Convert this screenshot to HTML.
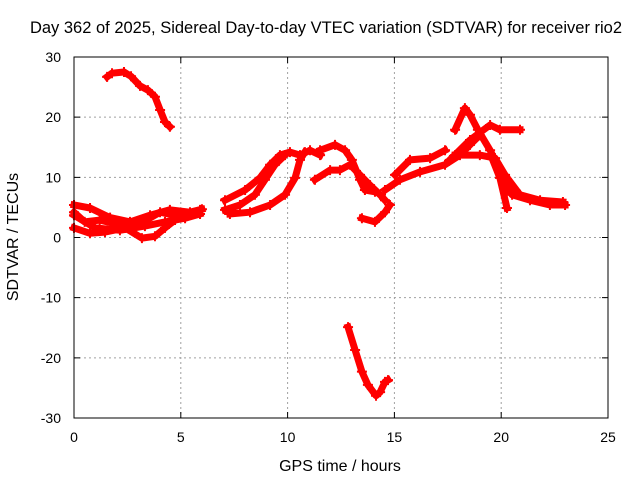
<!DOCTYPE html>
<html><head><meta charset="utf-8"><style>
body{margin:0;background:#fff}
svg{display:block;font-family:"Liberation Sans",sans-serif;font-size:14px}
</style></head><body>
<svg id="chart" width="640" height="480" viewBox="0 0 640 480">
<rect width="640" height="480" fill="#fff"/>
<text x="326" y="33" text-anchor="middle" font-size="16.5">Day 362 of 2025, Sidereal Day-to-day VTEC variation (SDTVAR) for receiver rio2</text>
<g id="grid"></g>
<g id="ticks"></g>
<g id="series"></g>
<rect x="74" y="57" width="534" height="361" fill="none" stroke="#000" stroke-width="1"/>
<text x="340" y="471" text-anchor="middle" font-size="16">GPS time / hours</text>
<text transform="translate(18,237) rotate(-90)" text-anchor="middle" font-size="16">SDTVAR / TECUs</text>
</svg>
<script>
const xTicks=[0,5,10,15,20,25];
const yTicks=[-30,-20,-10,0,10,20,30];
const arcTimes=[
[1.55,1.78,2.34,2.67,3.09,3.46,3.79,4.03,4.26,4.49],
[12.83,13.16,13.48,13.76,14.14,14.33,14.56,14.70],
[0,0.75,1.69,2.62,3.56,4.49,5.43,5.99],
[0,0.98,2.15,3.32,4.26,5.2,5.9],
[0,0.75,1.45,2.39,3.18,3.79,4.26,4.73],
[0,0.5,1.2,2.15,3.09,4.03,4.96,5.9],
[7.07,7.77,8.47,8.94,9.41,9.88],
[7.07,8.01,8.71,9.18,9.64,10.11,10.58,11.05,11.52],
[7.30,8.24,9.18,9.88,10.35,10.58,10.81],
[17.84,18.3,18.54,18.91,19.48,19.94,20.18,20.51,21.35,22.28,22.99],
[17.6,18.54,19.48,19.94,20.88],
[17.84,19.0,19.71,20.18,20.88,21.82,22.89],
[19.57,19.94,20.27],
[13.48,14.09,14.56,14.79],
[14.56,15.26,16.2,17.37,18.07,18.54,19.0],
[15.03,15.73,16.67,17.37],
[11.28,11.99,12.45,12.92,13.39,13.86,14.33,14.56],
[11.52,12.22,12.69,13.01,13.39,13.62,14.09]
];
const arcValues=[
[26.7,27.3,27.5,26.8,25.2,24.5,23.4,21.2,19.2,18.4],
[-14.9,-18.7,-22.3,-24.5,-26.3,-25.7,-24.0,-23.7],
[5.4,4.9,3.3,2.6,3.7,4.6,4.2,4.7],
[3.7,1.6,1.2,1.9,2.6,3.2,3.9],
[1.6,0.7,0.9,1.6,-0.1,0.2,1.6,2.9],
[4.2,2.6,2.9,2.1,2.3,4.2,3.5,4.6],
[4.6,5.4,7.1,9.6,12.1,13.7],
[6.2,7.9,9.9,12.1,13.7,14.2,13.7,14.5,13.7],
[3.9,4.2,5.4,7.1,9.9,12.9,14.2],
[17.9,21.5,20.4,17.9,14.5,11.2,8.7,7.1,6.2,5.4,5.4],
[12.9,16.2,18.7,17.9,17.9],
[13.7,13.7,13.2,10.4,7.1,6.2,5.9],
[13.2,9.9,4.9],
[3.2,2.6,4.2,5.4],
[7.9,9.6,10.9,12.1,13.7,15.4,17.0],
[10.4,12.9,13.2,14.5],
[9.6,11.2,11.2,12.1,10.4,8.7,7.1,6.2],
[14.5,15.4,14.5,12.9,9.6,7.9,7.6]
];
const X=t=>74+t*534/25;
const Y=v=>237.5-v*361/60;
const ns="http://www.w3.org/2000/svg";
const grid=document.getElementById('grid'),ticks=document.getElementById('ticks'),series=document.getElementById('series');
xTicks.forEach(t=>{
 const x=X(t);
 if(t>0&&t<25){const l=document.createElementNS(ns,'line');
 
 
 l.setAttribute('x1',x);l.setAttribute('x2',x);l.setAttribute('y1',57);l.setAttribute('y2',418);
 l.setAttribute('stroke','#a0a0a0');l.setAttribute('stroke-dasharray','2,3');grid.appendChild(l);}
 const tk=document.createElementNS(ns,'path');
 
 
 tk.setAttribute('d',`M${x},418v-6M${x},57v6`);tk.setAttribute('stroke','#000');ticks.appendChild(tk);
 const tx=document.createElementNS(ns,'text');
 
 
 tx.setAttribute('x',x);tx.setAttribute('y',442);tx.setAttribute('text-anchor','middle');tx.textContent=t;ticks.appendChild(tx);
});
yTicks.forEach(v=>{
 const y=Y(v);
 if(v>-30&&v<30){const l=document.createElementNS(ns,'line');
 
 
 l.setAttribute('x1',74);l.setAttribute('x2',608);l.setAttribute('y1',y);l.setAttribute('y2',y);
 l.setAttribute('stroke','#a0a0a0');l.setAttribute('stroke-dasharray','2,3');grid.appendChild(l);}
 const tk=document.createElementNS(ns,'path');
 
 
 tk.setAttribute('d',`M74,${y}h6M608,${y}h-6`);tk.setAttribute('stroke','#000');ticks.appendChild(tk);
 const tx=document.createElementNS(ns,'text');
 
 
 tx.setAttribute('x',61);tx.setAttribute('y',y+5);tx.setAttribute('text-anchor','end');tx.textContent=v;ticks.appendChild(tx);
});
arcTimes.forEach((ts,i)=>{
 const vs=arcValues[i];
 const d=ts.map((t,j)=>(j?'L':'M')+X(t).toFixed(1)+','+Y(vs[j]).toFixed(1)).join('');
 const p=document.createElementNS(ns,'path');
 
 
 p.setAttribute('d',d);p.setAttribute('fill','none');p.setAttribute('stroke','#ff0000');
 p.setAttribute('stroke-width','7');p.setAttribute('stroke-linejoin','round');p.setAttribute('stroke-linecap','square');
 series.appendChild(p);
 ts.forEach((t,j)=>{
  const m=document.createElementNS(ns,'path');
  
  
  const x=X(t),y=Y(vs[j]);
  m.setAttribute('d',`M${x-5},${y}h10M${x},${y-5}v10`);m.setAttribute('stroke','#ff0000');m.setAttribute('stroke-width','2');
  series.appendChild(m);
 });
});
</script>
</body></html>
